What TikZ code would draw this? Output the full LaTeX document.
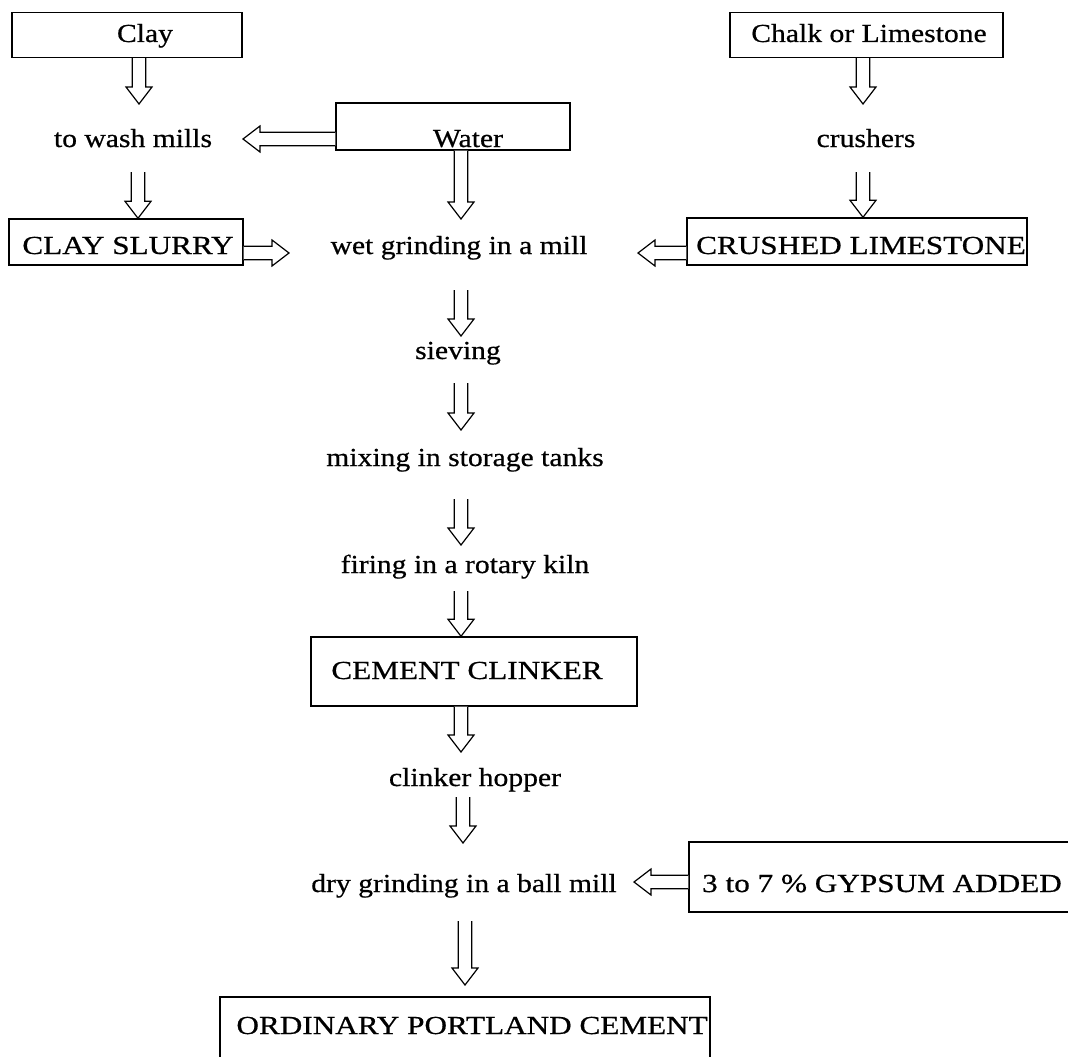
\documentclass[tikz,border=0pt]{standalone}
\usepackage{fontspec}
\setmainfont{Liberation Serif}[FakeStretch=1.14, FakeBold=0.6]
\newfontfamily\capsfont{Liberation Serif}[FakeStretch=1.2, FakeBold=0.6]
\usetikzlibrary{calc}
\newcommand{\blockarrow}[2]{%
  \draw[barrow] let \p1=(#1), \p2=(#2), \n1={atan2(\y2-\y1,\x2-\x1)}, \n2={veclen(\x2-\x1,\y2-\y1)} in
  [shift={(\p1)}, rotate=\n1]
  (0pt,-6.8pt) -- ({\n2*1pt-17pt},-6.8pt) -- ({\n2*1pt-17pt},-13pt) -- ({\n2*1pt},0pt)
  -- ({\n2*1pt-17pt},13pt) -- ({\n2*1pt-17pt},6.8pt) -- (0pt,6.8pt);}
\begin{document}
\begin{tikzpicture}[x=1pt,y=-1pt,
  box/.style={draw, line width=1.4pt, inner sep=0pt},
  lbl/.style={inner sep=0pt, anchor=base, font=\fontsize{26}{30}\selectfont},
  caps/.style={lbl, font=\fontsize{26}{30}\capsfont},
  barrow/.style={line width=1.2pt, fill=white, line join=miter}]
\useasboundingbox (0,0) rectangle (1068,1057);
% boxes
\node[box, minimum width=230pt, minimum height=45pt] (clay) at (127,35) {};
\node[box, minimum width=273pt, minimum height=45pt] (chalk) at (866.5,35) {};
\node[box, minimum width=234pt, minimum height=47pt] (water) at (453,126.5) {};
\node[box, minimum width=234pt, minimum height=46pt] (slurry) at (126,242) {};
\node[box, minimum width=340pt, minimum height=47pt] (crushed) at (857,241.5) {};
\node[box, minimum width=326pt, minimum height=69pt] (clinker) at (474,671.5) {};
\node[box, minimum width=418pt, minimum height=70pt] (gypsum) at (898,877) {};
\node[box, minimum width=490pt, minimum height=90pt] (opc) at (465,1042) {};
% texts
\node[lbl] (clayT) at (145,42) {Clay};
\node[lbl] (chalkT) at (869,42) {Chalk or Limestone};
\node[lbl] (washT) at (133,147) {to wash mills};
\node[lbl] (waterT) at (468,147) {Water};
\node[lbl] (crushT) at (866,147) {crushers};
\node[caps] (slurryT) at (128,254) {CLAY SLURRY};
\node[lbl] (wetT) at (459,254) {wet grinding in a mill};
\node[caps] (crushedT) at (861,254) {CRUSHED LIMESTONE};
\node[lbl] (sieveT) at (458,359) {sieving};
\node[lbl] (mixT) at (465,466) {mixing in storage tanks};
\node[lbl] (fireT) at (465,573) {firing in a rotary kiln};
\node[caps] (clinkerT) at (467,679) {CEMENT CLINKER};
\node[lbl] (hopperT) at (475,786) {clinker hopper};
\node[lbl] (dryT) at (464,892) {dry grinding in a ball mill};
\node[caps] (gypT) at (882,892) {3 to 7 \% GYPSUM ADDED};
\node[caps, anchor=base east] (opcT) at (708,1034) {ORDINARY PORTLAND CEMENT};
% arrow end points
\coordinate (washIn) at (139,104);
\coordinate (crushIn) at (863,104);
\coordinate (washR) at (243,139);
\coordinate (washOut) at (138,172);
\coordinate (crushOut) at (863,172);
\coordinate (wetTop) at (461,219);
\coordinate (wetL) at (289,253);
\coordinate (wetR) at (638,253);
\coordinate (wetOut) at (461,290);
\coordinate (sieveIn) at (461,336);
\coordinate (sieveOut) at (461,383);
\coordinate (mixIn) at (461,430);
\coordinate (mixOut) at (461,499);
\coordinate (fireIn) at (461,545);
\coordinate (fireOut) at (461,591);
\coordinate (hopperIn) at (461,752);
\coordinate (hopperOut) at (463,797);
\coordinate (dryIn) at (463,843);
\coordinate (dryR) at (634,882);
\coordinate (dryOut) at (465,921);
\coordinate (opcIn) at (465,985);
% arrows
\blockarrow{[xshift=12pt]clay.south}{washIn}
\blockarrow{[xshift=-3.5pt]chalk.south}{crushIn}
\blockarrow{[yshift=-12.5pt]water.west}{washR}
\blockarrow{water.south -| wetTop}{wetTop}
\blockarrow{washOut}{slurry.north -| washOut}
\blockarrow{crushOut}{crushed.north -| crushOut}
\blockarrow{[yshift=-11pt]slurry.east}{wetL}
\blockarrow{[yshift=-11.5pt]crushed.west}{wetR}
\blockarrow{wetOut}{sieveIn}
\blockarrow{sieveOut}{mixIn}
\blockarrow{mixOut}{fireIn}
\blockarrow{fireOut}{clinker.north -| fireOut}
\blockarrow{clinker.south -| hopperIn}{hopperIn}
\blockarrow{hopperOut}{dryIn}
\blockarrow{gypsum.west |- dryR}{dryR}
\blockarrow{dryOut}{opcIn}
\end{tikzpicture}
\end{document}
